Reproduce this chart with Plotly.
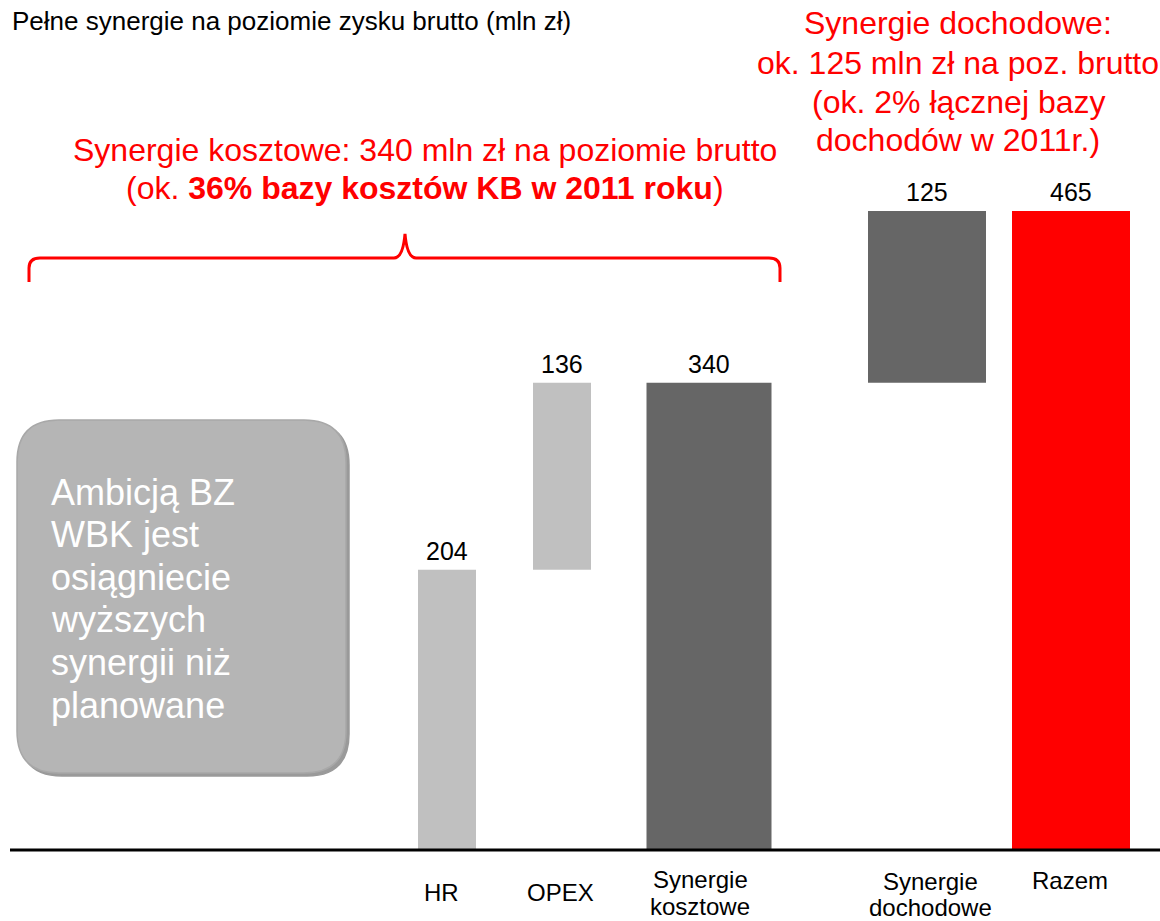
import plotly.graph_objects as go

#######################################
# DATA ################################
#######################################

categories = ["HR", "OPEX", "Synergie<br>kosztowe", "Synergie<br>dochodowe", "Razem"]
values = [204, 136, 340, 125, 465]
bases = [0, 204, 0, 340, 0]
value_labels = ["204", "136", "340", "125", "465"]

title_text = "Pełne synergie na poziomie zysku brutto (mln zł)"
cost_lines = ["Synergie kosztowe: 340 mln zł na poziomie brutto",
              "(ok. <b>36% bazy kosztów KB w 2011 roku</b>)"]
income_lines = ["Synergie dochodowe:", "ok. 125 mln zł na poz. brutto",
                "(ok. 2% łącznej bazy", "dochodów w 2011r.)"]
note_lines = ["Ambicją BZ", "WBK jest", "osiągniecie", "wyższych",
              "synergii niż", "planowane"]

#######################################
# LAYOUT CONSTANTS ####################
#######################################

W, H = 1160, 921
BASE_PX = 850          # pixel row of the zero line
PX_PER_UNIT = 1.374    # vertical scale

bar_x = [447, 562, 709, 927, 1071]      # centres (x axis runs in pixels)
bar_w = [58, 58, 125, 118, 118]
bar_colors = ["#c0c0c0", "#c0c0c0", "#666666", "#666666", "#ff0000"]
label_x = [441, 560, 700, 930, 1070]
label_y = [[892], [892], [879, 906], [881, 907], [880]]   # pixel rows per line

FONT = "Liberation Sans, Arial, sans-serif"
RED = "#ff0000"


def px(x):
    return x / W


def py(y):
    return 1 - y / H


def path(points):
    # points in pixels -> svg path in paper coordinates
    out = []
    for p in points:
        nums = p[1:]
        conv = [f"{px(nums[i]):.5f} {py(nums[i + 1]):.5f}" for i in range(0, len(nums), 2)]
        out.append(p[0] + " " + " ".join(conv))
    return " ".join(out)


def text_at(x, y, text, size, color="black", xanchor="center"):
    fig.add_annotation(x=px(x), y=py(y), xref="paper", yref="paper",
                       xanchor=xanchor, yanchor="middle", showarrow=False,
                       text=text, align=xanchor if xanchor != "center" else "center",
                       font=dict(size=size, color=color, family=FONT))


#######################################
# FIGURE ##############################
#######################################

fig = go.Figure(go.Bar(
    x=bar_x,
    y=values,
    base=bases,
    width=bar_w,
    marker=dict(color=bar_colors, line=dict(width=0)),
    hoverinfo="skip",
))

fig.update_layout(
    width=W, height=H,
    margin=dict(l=0, r=0, t=0, b=0),
    paper_bgcolor="white", plot_bgcolor="white",
    showlegend=False,
    font=dict(family=FONT, color="black"),
    xaxis=dict(range=[0, W], visible=False, fixedrange=True),
    yaxis=dict(range=[-(H - BASE_PX) / PX_PER_UNIT, BASE_PX / PX_PER_UNIT],
               visible=False, fixedrange=True),
)

# value labels above each bar
for x, b, v, t in zip(bar_x, bases, values, value_labels):
    fig.add_annotation(x=x, y=b + v, text=t, showarrow=False,
                       xanchor="center", yanchor="middle", yshift=19,
                       font=dict(size=25, color="black", family=FONT))

# category labels under the axis
for x, ys, c in zip(label_x, label_y, categories):
    for y, line in zip(ys, c.split("<br>")):
        text_at(x, y, line, 24)

# baseline
fig.add_shape(type="line", xref="paper", yref="y",
              x0=px(10), x1=1, y0=0, y1=0,
              line=dict(color="black", width=3))

# title
text_at(10, 21, title_text, 26, xanchor="left")

# red headings
for y, line in zip([150, 188], cost_lines):
    text_at(425, y, line, 32, RED)
for y, line in zip([23, 63, 102, 140], income_lines):
    text_at(958, y, line, 32, RED)

# brace
fig.add_shape(type="path", xref="paper", yref="paper",
              path=path([("M", 29, 282), ("L", 29, 268), ("Q", 29, 258, 40, 258),
                         ("L", 394, 258), ("Q", 403, 258, 405, 234),
                         ("Q", 407, 258, 416, 258), ("L", 769, 258),
                         ("Q", 780, 258, 780, 268), ("L", 780, 282)]),
              line=dict(color=RED, width=3))

# rounded note box with soft shadow
r = 42
for dx, col in [(3, "#9a9a9a"), (0, "#b5b5b5")]:
    x0, y0, x1, y1 = 17 + dx, 420 + dx, 346 + dx, 773 + dx
    fig.add_shape(type="path", xref="paper", yref="paper",
                  path=path([("M", x0 + r, y0), ("L", x1 - r, y0),
                             ("Q", x1, y0, x1, y0 + r), ("L", x1, y1 - r),
                             ("Q", x1, y1, x1 - r, y1), ("L", x0 + r, y1),
                             ("Q", x0, y1, x0, y1 - r), ("L", x0, y0 + r),
                             ("Q", x0, y0, x0 + r, y0), ("Z",)]),
                  fillcolor=col, line=dict(color="#a8a8a8" if dx == 0 else col, width=1.5),
                  layer="below")

for i, line in enumerate(note_lines):
    text_at(49, 492 + i * 42.6, line, 36, "white", xanchor="left")

fig.write_html("out.html", config={"displayModeBar": False},
               post_script="document.body.style.margin='0';")
